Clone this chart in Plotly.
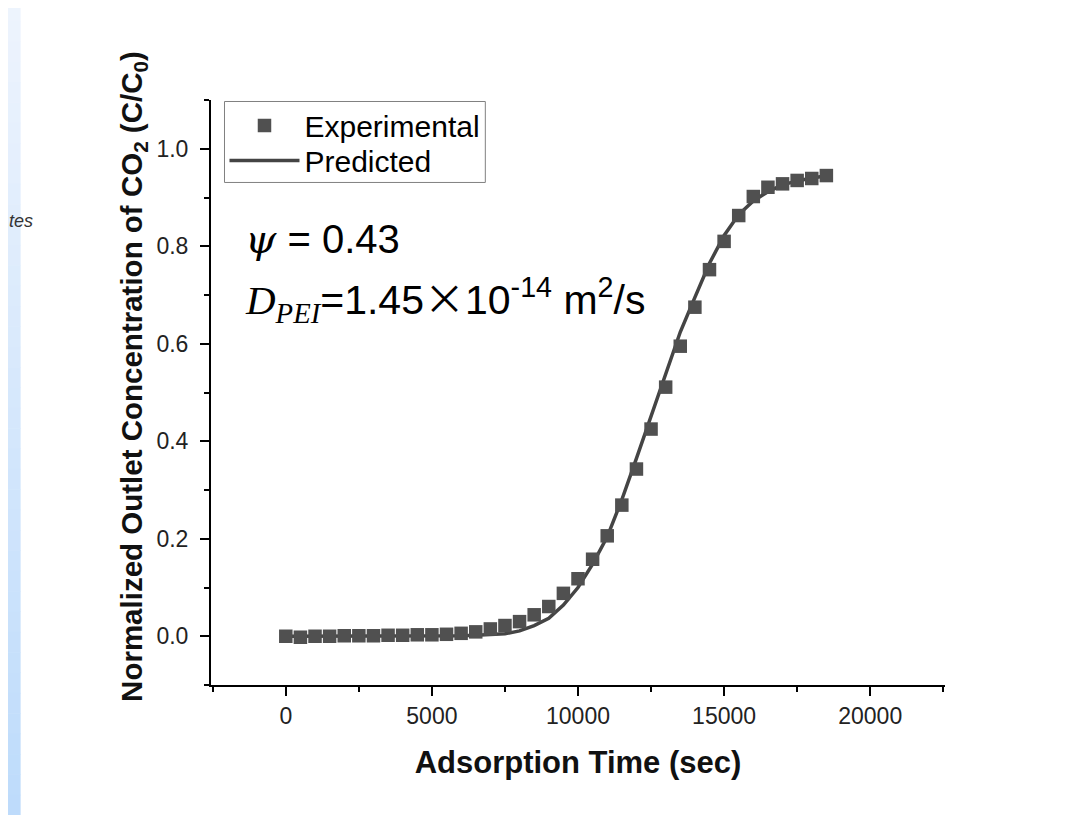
import plotly.graph_objects as go

# ---------------- data ----------------
exp_time = [0, 500, 1000, 1500, 2000, 2500, 3000, 3500, 4000, 4500,
            5000, 5500, 6000, 6500, 7000, 7500, 8000, 8500, 9000, 9500,
            10000, 10500, 11000, 11500, 12000, 12500, 13000, 13500, 14000, 14500,
            15000, 15500, 16000, 16500, 17000, 17500, 18000, 18500]
exp_conc = [0.000, -0.002, 0.000, 0.000, 0.001, 0.001, 0.001, 0.002, 0.002, 0.003,
            0.003, 0.004, 0.006, 0.009, 0.015, 0.022, 0.030, 0.044, 0.061, 0.088,
            0.118, 0.158, 0.206, 0.269, 0.343, 0.425, 0.511, 0.595, 0.675, 0.752,
            0.810, 0.863, 0.902, 0.921, 0.928, 0.935, 0.939, 0.945]

pred_time = [0, 2000, 4000, 5000, 6000, 6500, 7000, 7500, 8000, 8500,
             9000, 9500, 10000, 10500, 11000, 11500, 12000, 12500, 13000, 13500,
             14000, 14500, 15000, 15500, 16000, 16500, 17000, 17500, 18000, 18500, 18700]
pred_conc = [0.000, 0.000, 0.000, 0.0005, 0.001, 0.002, 0.003, 0.005, 0.011, 0.022,
             0.037, 0.064, 0.100, 0.148, 0.204, 0.280, 0.365, 0.452, 0.537, 0.624,
             0.695, 0.765, 0.822, 0.865, 0.893, 0.912, 0.926, 0.934, 0.940, 0.944, 0.946]

x_ticks = [0, 5000, 10000, 15000, 20000]
y_ticks = [0.0, 0.2, 0.4, 0.6, 0.8, 1.0]

# ---------------- layout geometry ----------------
# the page adds an 8px body margin, so the figure is 8px smaller and
# every page coordinate is shifted by OFF when converted to figure coords
OFF = 8
W, H = 1082 - OFF, 815 - OFF
L = 210.5 - OFF
T = 99.5 - OFF
PLOT_R = 945 - OFF
PLOT_B = 684.8 - OFF
R = W - PLOT_R
B = H - PLOT_B
PW, PH = PLOT_R - L, PLOT_B - T


def px(xpage):
    return (xpage - OFF - L) / PW


def py(ypage):
    return (PLOT_B - (ypage - OFF)) / PH


FONT = "Liberation Sans, Arial, sans-serif"

fig = go.Figure()
fig.add_trace(go.Scatter(
    x=pred_time, y=pred_conc, mode="lines", name="Predicted", legend="legend2",
    showlegend=True, line=dict(color="#444444", width=3.5),
))
fig.add_trace(go.Scatter(
    x=exp_time, y=exp_conc, mode="markers", name="Experimental", legend="legend",
    showlegend=True,
    marker=dict(symbol="square", size=13.5, color="#505050", line=dict(width=0)),
))

# background decoration (slide-like strip on the left)
shapes = []
n = 40
c_top = (0xee, 0xf4, 0xfd)
c_bot = (0xbd, 0xdb, 0xfb)
for i in range(n):
    f = (i + 0.5) / n
    c = tuple(int(round(a + (b - a) * f)) for a, b in zip(c_top, c_bot))
    y0 = 815 * i / n
    y1 = 815 * (i + 1) / n
    shapes.append(dict(type="rect", xref="paper", yref="paper", layer="below",
                       x0=px(0), x1=px(20), y0=py(y1 + 0.5), y1=py(y0),
                       fillcolor="rgb(%d,%d,%d)" % c, line=dict(width=0)))
# legend frame
shapes.append(dict(type="rect", xref="paper", yref="paper", layer="above",
                   x0=px(224), x1=px(485), y0=py(182), y1=py(101),
                   fillcolor="rgba(255,255,255,0)", line=dict(color="#808080", width=1)))

annotations = [
    dict(xref="paper", yref="paper", x=px(243), y=py(239), xanchor="left", yanchor="middle",
         showarrow=False, align="left",
         text="<span style=\"font-family:'DejaVu Serif'\"><i>ψ</i></span> = 0.43",
         font=dict(family=FONT, size=40, color="black")),
    dict(xref="paper", yref="paper", x=px(243), y=py(297), xanchor="left", yanchor="middle",
         showarrow=False, align="left",
         text="<span style=\"font-family:'Liberation Serif'\"><i>D</i><sub><i>PEI</i></sub></span>"
              "=1.45<span style=\"font-family:'Noto Sans CJK SC'\">×</span>10<sup>-14</sup> m<sup>2</sup>/s",
         font=dict(family=FONT, size=41, color="black")),
    dict(xref="paper", yref="paper", x=px(34), y=py(221), xanchor="right", yanchor="middle",
         showarrow=False, text="<i>tes</i>",
         font=dict(family=FONT, size=18, color="#333333")),
    # y-axis title (placed like the reference, slightly above the axis centre)
    dict(xref="paper", yref="paper", x=px(133), y=py(376), xanchor="center", yanchor="middle",
         showarrow=False, textangle=-90,
         text="<b>Normalized Outlet Concentration of CO<sub>2</sub> (C/C<sub>0</sub>)</b>",
         font=dict(family=FONT, size=29.5, color="#111111")),
]

leg_common = dict(xanchor="left", yanchor="middle", bgcolor="rgba(255,255,255,0)",
                  borderwidth=0, font=dict(family=FONT, size=30, color="black"),
                  itemwidth=70)

fig.update_layout(
    width=W, height=H,
    margin=dict(l=L, r=R, t=T, b=B, autoexpand=False),
    paper_bgcolor="white", plot_bgcolor="white",
    font=dict(family=FONT, color="black"),
    shapes=shapes, annotations=annotations,
    showlegend=True,
    legend=dict(x=px(224), y=py(125), **leg_common),
    legend2=dict(x=px(224), y=py(160), **leg_common),
    xaxis=dict(
        range=[-2560, 22560], tickvals=x_ticks, ticktext=[str(v) for v in x_ticks],
        showline=True, linecolor="black", linewidth=2, mirror=False,
        ticks="outside", ticklen=9, tickwidth=2, tickcolor="black",
        minor=dict(dtick=2500, tick0=0, ticks="outside", ticklen=5, tickwidth=2, tickcolor="black"),
        showgrid=False, zeroline=False, ticklabelstandoff=0,
        tickfont=dict(family=FONT, size=23, color="#222222"),
        title=dict(text="<b>Adsorption Time (sec)</b>", standoff=24,
                   font=dict(family=FONT, size=31, color="#111111")),
    ),
    yaxis=dict(
        range=[-0.1, 1.1], tickvals=y_ticks, ticktext=["%.1f" % v for v in y_ticks],
        showline=True, linecolor="black", linewidth=2, mirror=False,
        ticks="outside", ticklen=9, tickwidth=2, tickcolor="black",
        minor=dict(dtick=0.1, tick0=0, ticks="outside", ticklen=5, tickwidth=2, tickcolor="black"),
        showgrid=False, zeroline=False, ticklabelstandoff=7,
        tickfont=dict(family=FONT, size=23, color="#222222"),
    ),
)

fig.write_html("out.html")
